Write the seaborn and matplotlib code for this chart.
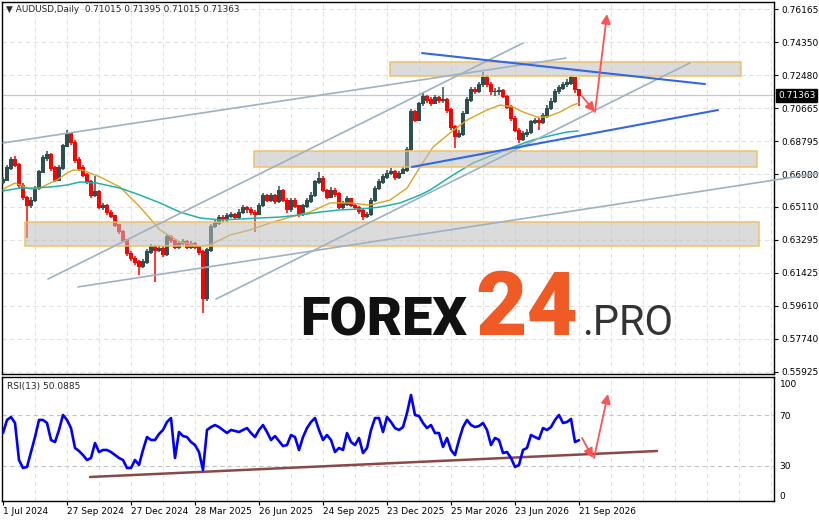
import numpy as np
import matplotlib
matplotlib.use("Agg")
import matplotlib.pyplot as plt
import matplotlib.transforms as mtrans
from matplotlib.patches import Rectangle
import seaborn as sns

sns.set_theme(style="white")
plt.rcParams["font.family"] = ["DejaVu Sans"]

W, H = 820, 523
STEP = 4  # trading days per candle

# ── price data (one candle = 4 trading days) ──
first_open = 0.6650
close = [
    0.6663, 0.6730, 0.6775, 0.6747, 0.6635, 0.6563, 0.6523, 0.6551, 0.6618, 0.6708,
    0.6786, 0.6803, 0.6730, 0.6663, 0.6730, 0.6853, 0.6920, 0.6875, 0.6775, 0.6730,
    0.6691, 0.6652, 0.6579, 0.6596, 0.6512, 0.6518, 0.6484, 0.6462, 0.6412, 0.6373,
    0.6328, 0.6255, 0.6227, 0.6205, 0.6183, 0.6205, 0.6261, 0.6289, 0.6272, 0.6283,
    0.6250, 0.6345, 0.6323, 0.6289, 0.6311, 0.6317, 0.6289, 0.6306, 0.6289, 0.6261,
    0.6004, 0.6272, 0.6406, 0.6423, 0.6456, 0.6440, 0.6462, 0.6468, 0.6456, 0.6484,
    0.6507, 0.6496, 0.6484, 0.6473, 0.6523, 0.6574, 0.6551, 0.6574, 0.6546, 0.6607,
    0.6551, 0.6496, 0.6551, 0.6518, 0.6473, 0.6518, 0.6546, 0.6579, 0.6652, 0.6674,
    0.6607, 0.6568, 0.6607, 0.6585, 0.6512, 0.6529, 0.6557, 0.6523, 0.6507, 0.6490,
    0.6462, 0.6468, 0.6551, 0.6618, 0.6652, 0.6680, 0.6702, 0.6708, 0.6680, 0.6702,
    0.6719, 0.6831, 0.7043, 0.6998, 0.7088, 0.7127, 0.7110, 0.7093, 0.7121, 0.7110,
    0.7110, 0.7054, 0.6959, 0.6909, 0.6920, 0.7037, 0.7110, 0.7166, 0.7160, 0.7194,
    0.7233, 0.7199, 0.7155, 0.7155, 0.7160, 0.7132, 0.7071, 0.7009, 0.6942, 0.6892,
    0.6920, 0.6931, 0.6987, 0.6993, 0.6987, 0.7021, 0.7065, 0.7104, 0.7155, 0.7177,
    0.7194, 0.7205, 0.7233, 0.7166, 0.7136,
]
high = [
    0.6680, 0.6748, 0.6790, 0.6795, 0.6760, 0.6645, 0.6575, 0.6570, 0.6630, 0.6720,
    0.6800, 0.6825, 0.6815, 0.6740, 0.6745, 0.6865, 0.6940, 0.6930, 0.6885, 0.6790,
    0.6745, 0.6705, 0.6665, 0.6685, 0.6605, 0.6535, 0.6530, 0.6495, 0.6470, 0.6420,
    0.6385, 0.6335, 0.6265, 0.6240, 0.6215, 0.6220, 0.6275, 0.6305, 0.6300, 0.6300,
    0.6295, 0.6360, 0.6355, 0.6335, 0.6325, 0.6335, 0.6330, 0.6320, 0.6315, 0.6300,
    0.6270, 0.6285, 0.6420, 0.6440, 0.6470, 0.6470, 0.6480, 0.6485, 0.6480, 0.6500,
    0.6525, 0.6520, 0.6510, 0.6495, 0.6535, 0.6590, 0.6585, 0.6590, 0.6585, 0.6630,
    0.6615, 0.6560, 0.6565, 0.6560, 0.6525, 0.6530, 0.6560, 0.6595, 0.6665, 0.6710,
    0.6685, 0.6615, 0.6625, 0.6620, 0.6595, 0.6545, 0.6575, 0.6565, 0.6535, 0.6520,
    0.6500, 0.6485, 0.6565, 0.6630, 0.6670, 0.6695, 0.6720, 0.6730, 0.6720, 0.6715,
    0.6735, 0.6845, 0.7060, 0.7055, 0.7100, 0.7150, 0.7140, 0.7125, 0.7140, 0.7135,
    0.7180, 0.7120, 0.7065, 0.6970, 0.6940, 0.7050, 0.7125, 0.7180, 0.7185, 0.7210,
    0.7266, 0.7250, 0.7210, 0.7175, 0.7180, 0.7170, 0.7140, 0.7080, 0.7020, 0.6955,
    0.6935, 0.6950, 0.7000, 0.7010, 0.7010, 0.7035, 0.7080, 0.7120, 0.7170, 0.7195,
    0.7210, 0.7225, 0.7243, 0.7240, 0.7145,
]
low = [
    0.6640, 0.6655, 0.6720, 0.6735, 0.6620, 0.6550, 0.6340, 0.6505, 0.6540, 0.6605,
    0.6700, 0.6770, 0.6715, 0.6650, 0.6655, 0.6720, 0.6845, 0.6860, 0.6760, 0.6715,
    0.6680, 0.6640, 0.6565, 0.6570, 0.6500, 0.6495, 0.6470, 0.6450, 0.6400, 0.6360,
    0.6315, 0.6240, 0.6210, 0.6190, 0.6135, 0.6170, 0.6195, 0.6250, 0.6095, 0.6260,
    0.6235, 0.6240, 0.6310, 0.6275, 0.6280, 0.6300, 0.6275, 0.6280, 0.6275, 0.6245,
    0.5920, 0.5990, 0.6260, 0.6395, 0.6410, 0.6425, 0.6430, 0.6450, 0.6440, 0.6445,
    0.6475, 0.6480, 0.6470, 0.6375, 0.6465, 0.6515, 0.6540, 0.6540, 0.6530, 0.6535,
    0.6540, 0.6480, 0.6485, 0.6505, 0.6455, 0.6460, 0.6505, 0.6535, 0.6570, 0.6640,
    0.6595, 0.6555, 0.6560, 0.6570, 0.6500, 0.6500, 0.6520, 0.6510, 0.6495, 0.6475,
    0.6440, 0.6450, 0.6460, 0.6540, 0.6610, 0.6640, 0.6670, 0.6690, 0.6665, 0.6670,
    0.6695, 0.6710, 0.6825, 0.6985, 0.6990, 0.7075, 0.7095, 0.7075, 0.7085, 0.7095,
    0.7095, 0.7040, 0.6945, 0.6840, 0.6895, 0.6910, 0.7030, 0.7100, 0.7145, 0.7150,
    0.7185, 0.7185, 0.7140, 0.7135, 0.7140, 0.7120, 0.7060, 0.6995, 0.6930, 0.6870,
    0.6880, 0.6905, 0.6920, 0.6975, 0.6945, 0.6975, 0.7010, 0.7055, 0.7095, 0.7145,
    0.7165, 0.7185, 0.7195, 0.7150, 0.7075,
]
last_price = 0.71363

# moving averages (bar index, price)
ma_fast_bar = [0, 4, 12, 17, 27, 37, 47, 54, 64, 70, 79, 87, 97, 117, 137, 157, 177, 197,
               207, 227, 247, 267, 287, 307, 327, 347, 367, 387, 404, 417, 430, 447, 464,
               484, 497, 510, 520, 534, 544, 557, 570, 576]
ma_fast = [0.6607, 0.6624, 0.6646, 0.6635, 0.6613, 0.6618, 0.6646, 0.6663, 0.6702, 0.6719,
           0.6719, 0.6702, 0.6680, 0.6624, 0.6512, 0.6384, 0.6317, 0.6295, 0.6300, 0.6356,
           0.6384, 0.6423, 0.6456, 0.6484, 0.6535, 0.6535, 0.6523, 0.6551, 0.6618, 0.6736,
           0.6847, 0.6926, 0.6998, 0.7054, 0.7082, 0.7071, 0.7043, 0.7015, 0.7015, 0.7043,
           0.7082, 0.7093]
ma_slow_bar = [0, 17, 30, 47, 64, 77, 94, 117, 137, 157, 177, 197, 217, 237, 257, 277, 297,
               317, 337, 357, 377, 397, 417, 427, 450, 470, 490, 510, 530, 550, 564, 575]
ma_slow = [0.6602, 0.6618, 0.6618, 0.6624, 0.6635, 0.6652, 0.6646, 0.6618, 0.6579, 0.6535,
           0.6484, 0.6451, 0.6440, 0.6445, 0.6451, 0.6456, 0.6468, 0.6484, 0.6496, 0.6501,
           0.6512, 0.6535, 0.6579, 0.6607, 0.6691, 0.6758, 0.6803, 0.6847, 0.6887, 0.6914,
           0.6931, 0.6937]

# RSI(13), one value per candle
rsi = [
    55.8, 66.1, 68.4, 63.7, 34.5, 28.2, 29.0, 40.8, 52.6, 66.1,
    66.1, 63.7, 50.3, 48.7, 58.2, 70.0, 66.1, 59.7, 44.0, 41.6,
    38.4, 34.5, 36.1, 47.9, 40.8, 42.4, 42.4, 40.8, 38.4, 36.1,
    34.5, 28.2, 28.2, 34.5, 30.6, 42.4, 52.6, 50.3, 50.3, 55.0,
    58.2, 64.5, 67.6, 36.1, 56.6, 53.4, 52.6, 48.7, 46.3, 40.8,
    26.6, 58.2, 60.5, 62.1, 60.5, 58.2, 55.8, 58.2, 57.4, 56.6,
    58.2, 59.7, 55.8, 52.6, 58.2, 62.1, 56.6, 50.3, 53.4, 49.5,
    45.5, 46.3, 54.2, 52.6, 42.4, 52.6, 59.7, 64.5, 67.6, 58.2,
    50.3, 54.2, 50.3, 40.8, 44.0, 42.4, 55.8, 48.7, 46.3, 51.9,
    40.0, 44.0, 58.2, 67.6, 67.6, 56.6, 68.4, 64.5, 59.7, 58.2,
    60.5, 71.6, 85.8, 70.0, 69.2, 63.7, 59.7, 62.1, 55.8, 55.8,
    44.8, 51.9, 42.4, 38.4, 50.3, 60.5, 66.1, 62.1, 60.5, 61.3,
    63.7, 58.2, 46.3, 51.9, 50.3, 40.0, 40.8, 36.1, 29.0, 30.6,
    42.4, 44.0, 54.2, 52.6, 51.1, 59.7, 58.2, 60.5, 66.1, 70.0,
    63.7, 64.5, 66.9, 48.7, 50.1,
]

price_ticks = ["0.76165", "0.74350", "0.72480", "0.70665", "0.68795", "0.66980",
               "0.65110", "0.63295", "0.61425", "0.59610", "0.57740", "0.55925"]
date_labels = ["1 Jul 2024", "27 Sep 2024", "27 Dec 2024", "28 Mar 2025", "26 Jun 2025",
               "24 Sep 2025", "23 Dec 2025", "25 Mar 2026", "23 Jun 2026", "21 Sep 2026"]

# analyst drawings (bar index, price)
zones = [(387, 738, 0.7244, 0.7324), (251, 754, 0.6737, 0.6827), (22, 756, 0.6296, 0.6430)]
grey_lines = [((0, 0.6870), (563, 0.7344)), ((45, 0.6110), (520, 0.7428)),
              ((75, 0.6066), (817, 0.6702)), ((213, 0.5998), (687, 0.7317))]
blue_lines = [((419, 0.7372), (702, 0.7199)), ((409, 0.6736), (715, 0.7054))]
arrows_main = [((579, 0.7132), (592, 0.7043)), ((592, 0.7043), (604, 0.7590))]
rsi_trend = ((87, 21.1), (654, 41.6))
arrows_rsi = [((579, 51.9), (590, 36.1)), ((591, 36.1), (605, 86.6))]

# ── figure ──
fig = plt.figure(figsize=(W / 100, H / 100), dpi=100, facecolor="white")
ax = fig.add_axes([2 / W, 1 - 374 / H, 772 / W, 372 / H])
ax_r = fig.add_axes([2 / W, 1 - 501 / H, 772 / W, 124 / H])

def px_to_price(py):
    return 0.766844 - 0.0005585 * py

tick_vals = np.linspace(0.76165, 0.55925, len(price_ticks))
grid_kw = dict(color="#E2E2E2", lw=0.8, ls=(0, (4, 3)), zorder=0)

for a in (ax, ax_r):
    a.set_xlim(-1, 771)
    a.set_facecolor("white")
    for s in a.spines.values():
        s.set_color("black")
        s.set_linewidth(1)
    for xv in np.arange(32, 771, 32):
        a.axvline(xv, **grid_kw)

# main panel
ax.set_ylim(px_to_price(374), px_to_price(2))
for yv in tick_vals:
    ax.axhline(yv, **grid_kw)
ax.axhline(last_price, color="#C8C8C8", lw=0.9, zorder=1)

bars = np.arange(len(close)) * STEP
c = np.array(close)
o = np.r_[first_open, c[:-1]]
colors = np.where(c >= o, "#2F4F4F", "#FF0000")
ax.vlines(bars, low, high, colors=colors, lw=1.1, zorder=3)
ax.bar(bars, np.abs(c - o) + 0.0006, bottom=np.minimum(o, c) - 0.0003, width=3.3,
       color=colors, linewidth=0, zorder=3)

sns.lineplot(x=ma_fast_bar, y=ma_fast, ax=ax, color="#DAA520", lw=1, zorder=4, legend=False)
sns.lineplot(x=ma_slow_bar, y=ma_slow, ax=ax, color="#20B2AA", lw=1.1, zorder=4, legend=False)

for x0, x1, y0, y1 in zones:
    ax.add_patch(Rectangle((x0, y0), x1 - x0, y1 - y0, facecolor="#BEBEBE", alpha=0.55,
                           edgecolor="none", zorder=5))
    ax.add_patch(Rectangle((x0, y0), x1 - x0, y1 - y0, facecolor="none",
                           edgecolor="#F2BE5C", lw=1.2, alpha=0.85, zorder=5))

for (x0, y0), (x1, y1) in grey_lines:
    ax.plot([x0, x1], [y0, y1], color="#9DB1C3", lw=1.2, zorder=6, clip_on=False)
for (x0, y0), (x1, y1) in blue_lines:
    ax.plot([x0, x1], [y0, y1], color="#3366E6", lw=1.5, zorder=6)

arrow_kw = dict(arrowstyle="-|>", color="#FF5252", lw=1.3, mutation_scale=14, shrinkA=0, shrinkB=0)
for (x0, y0), (x1, y1) in arrows_main:
    ax.annotate("", xy=(x1, y1), xytext=(x0, y0), arrowprops=arrow_kw, zorder=7,
                annotation_clip=False)

ax.yaxis.tick_right()
ax.set_yticks(tick_vals)
ax.set_yticklabels(price_ticks)
ax.tick_params(axis="y", length=3, width=0.8, pad=2, labelsize=6.5, colors="black",
               direction="out", right=True)
ax.set_xticks([])
ax.grid(False)

tr = mtrans.blended_transform_factory(fig.transFigure, ax.transData)
ax.text(778 / W, last_price, "0.71363", transform=tr, color="white", fontsize=6.5,
        va="center", ha="left", zorder=10,
        bbox=dict(boxstyle="square,pad=0.2", fc="black", ec="black"), clip_on=False)

# RSI panel
ax_r.set_ylim(2.15, 100)
for lv in (70, 30):
    ax_r.axhline(lv, color="#C4C4C4", lw=0.8, ls=(0, (4, 3)), zorder=1)
sns.lineplot(x=bars, y=rsi, ax=ax_r, color="#0000FF", lw=1.9, zorder=4, legend=False)
(x0, y0), (x1, y1) = rsi_trend
ax_r.plot([x0, x1], [y0, y1], color="#8B4848", lw=1.8, zorder=3)
for (x0, y0), (x1, y1) in arrows_rsi:
    ax_r.annotate("", xy=(x1, y1), xytext=(x0, y0), arrowprops=arrow_kw, zorder=7)

ax_r.yaxis.tick_right()
ax_r.set_yticks([94.5, 70, 30, 6.8])
ax_r.set_yticklabels(["100", "70", "30", "0"])
ax_r.tick_params(axis="y", length=0, pad=4, labelsize=6.5, colors="black")
ax_r.set_xticks(np.arange(len(date_labels)) * 64)
ax_r.set_xticklabels(date_labels, ha="left")
ax_r.tick_params(axis="x", length=3, width=0.8, pad=1, labelsize=6.5, colors="black",
                 direction="out", bottom=True)
ax_r.set_xlabel("")
ax_r.set_ylabel("")
ax.set_xlabel("")
ax.set_ylabel("")
ax_r.grid(False)
ax_r.text(5 / 772, 1 - 9 / 124, "RSI(13) 50.0885", transform=ax_r.transAxes, fontsize=6.5,
          va="center", ha="left")

# header
fig.text(6 / W, 1 - 10 / H, "\u25bc AUDUSD,Daily  0.71015 0.71395 0.71015 0.71363",
         fontsize=6.4, va="center", ha="left")

# watermark
base = 1 - 335 / H
fig.text(300 / W, base, "FOREX", fontsize=39, fontweight="heavy", family="Roboto",
         color="#111111", va="baseline", ha="left", zorder=20)
fig.text(475 / W, base, "24", fontsize=64, fontweight="heavy", family="Roboto",
         color="#F05A24", va="baseline", ha="left", zorder=20)
fig.text(582 / W, base, ".PRO", fontsize=30, fontweight="normal", family="Roboto",
         color="#333333", va="baseline", ha="left", zorder=20)

fig.savefig("out.png", dpi=100, facecolor="white")
